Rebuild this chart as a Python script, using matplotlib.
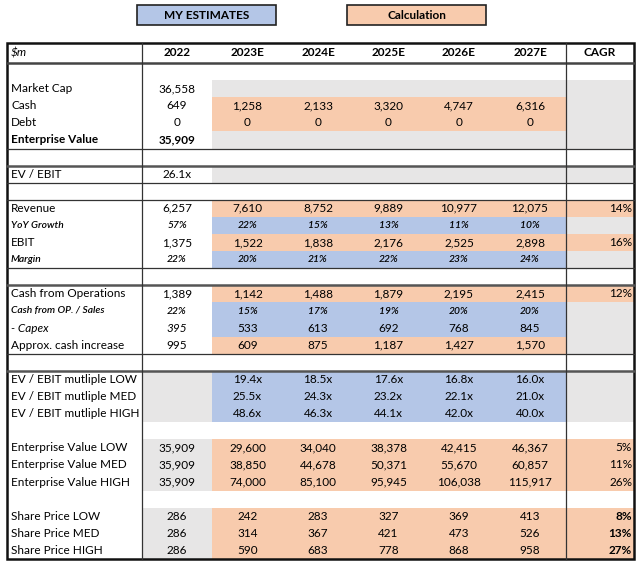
import matplotlib
matplotlib.use("Agg")
import matplotlib.pyplot as plt
from matplotlib.patches import Rectangle

plt.rcParams["font.family"] = ["Lato", "DejaVu Sans"]

# --- data read from the sheet ---
years = ["2022", "2023E", "2024E", "2025E", "2026E", "2027E"]
market_cap = 36558
cash = [649, 1258, 2133, 3320, 4747, 6316]
debt = [0, 0, 0, 0, 0, 0]
enterprise_value = 35909
ev_ebit = 26.1
revenue = [6257, 7610, 8752, 9889, 10977, 12075]
yoy_growth = [57, 22, 15, 13, 11, 10]
ebit = [1375, 1522, 1838, 2176, 2525, 2898]
margin = [22, 20, 21, 22, 23, 24]
cfo = [1389, 1142, 1488, 1879, 2195, 2415]
cfo_sales = [22, 15, 17, 19, 20, 20]
capex = [395, 533, 613, 692, 768, 845]
cash_increase = [995, 609, 875, 1187, 1427, 1570]
mult_low = [19.4, 18.5, 17.6, 16.8, 16.0]
mult_med = [25.5, 24.3, 23.2, 22.1, 21.0]
mult_high = [48.6, 46.3, 44.1, 42.0, 40.0]
ev_low = [35909, 29600, 34040, 38378, 42415, 46367]
ev_med = [35909, 38850, 44678, 50371, 55670, 60857]
ev_high = [35909, 74000, 85100, 95945, 106038, 115917]
sp_low = [286, 242, 283, 327, 369, 413]
sp_med = [286, 314, 367, 421, 473, 526]
sp_high = [286, 590, 683, 778, 868, 958]
cagr = {"revenue": 14, "ebit": 16, "cfo": 12,
        "ev_low": 5, "ev_med": 11, "ev_high": 26,
        "sp_low": 8, "sp_med": 13, "sp_high": 27}

BLUE = "#B4C6E7"
ORANGE = "#F8CBAD"
GRAY = "#E7E6E6"
FS = 8.5
FS_SMALL = 7.4


def num(v):
    return f"{v:,}"


def pct(v):
    return f"{v}%"


def mult(v):
    return f"{v:.1f}x"


# row: label, values (6, None = empty), cagr text, style, fill 2022, fill data, fill cagr
rows = [
    None,
    ("Market Cap", [num(market_cap)] + [None] * 5, None, "normal", None, GRAY, GRAY),
    ("Cash", [num(v) for v in cash], None, "normal", None, ORANGE, GRAY),
    ("Debt", [num(v) for v in debt], None, "normal", None, ORANGE, GRAY),
    ("Enterprise Value", [num(enterprise_value)] + [None] * 5, None, "bold", None, GRAY, GRAY),
    None,
    ("EV / EBIT", [mult(ev_ebit)] + [None] * 5, None, "normal", None, GRAY, GRAY),
    None,
    ("Revenue", [num(v) for v in revenue], pct(cagr["revenue"]), "normal", None, ORANGE, ORANGE),
    ("YoY Growth", [pct(v) for v in yoy_growth], None, "small", None, BLUE, GRAY),
    ("EBIT", [num(v) for v in ebit], pct(cagr["ebit"]), "normal", None, ORANGE, ORANGE),
    ("Margin", [pct(v) for v in margin], None, "small", None, BLUE, GRAY),
    None,
    ("Cash from Operations", [num(v) for v in cfo], pct(cagr["cfo"]), "normal", None, ORANGE, ORANGE),
    ("Cash from OP. / Sales", [pct(v) for v in cfo_sales], None, "small", None, BLUE, GRAY),
    ("- Capex", [num(v) for v in capex], None, "capex", None, BLUE, GRAY),
    ("Approx. cash increase", [num(v) for v in cash_increase], None, "normal", None, ORANGE, GRAY),
    None,
    ("EV / EBIT mutliple LOW", [None] + [mult(v) for v in mult_low], None, "normal", GRAY, BLUE, GRAY),
    ("EV / EBIT mutliple MED", [None] + [mult(v) for v in mult_med], None, "normal", GRAY, BLUE, GRAY),
    ("EV / EBIT mutliple HIGH", [None] + [mult(v) for v in mult_high], None, "normal", GRAY, BLUE, GRAY),
    None,
    ("Enterprise Value LOW", [num(v) for v in ev_low], pct(cagr["ev_low"]), "normal", GRAY, ORANGE, ORANGE),
    ("Enterprise Value MED", [num(v) for v in ev_med], pct(cagr["ev_med"]), "normal", GRAY, ORANGE, ORANGE),
    ("Enterprise Value HIGH", [num(v) for v in ev_high], pct(cagr["ev_high"]), "normal", GRAY, ORANGE, ORANGE),
    None,
    ("Share Price LOW", [num(v) for v in sp_low], pct(cagr["sp_low"]), "cagrbold", GRAY, ORANGE, ORANGE),
    ("Share Price MED", [num(v) for v in sp_med], pct(cagr["sp_med"]), "cagrbold", GRAY, ORANGE, ORANGE),
    ("Share Price HIGH", [num(v) for v in sp_high], pct(cagr["sp_high"]), "cagrbold", GRAY, ORANGE, ORANGE),
]

# layout in pixels
x_edges = [7, 142, 212, 283, 353, 424, 494, 566, 634]
top, head_bottom, bottom = 43, 63, 559
row_h = (bottom - head_bottom) / len(rows)

fig = plt.figure(figsize=(6.4, 5.65), dpi=100)
ax = fig.add_axes([0, 0, 1, 1])
ax.set_xlim(0, 640)
ax.set_ylim(565, 0)
ax.axis("off")

# legend boxes
for (x0, x1), txt, col in [((137, 276), "MY ESTIMATES", BLUE), ((347, 486), "Calculation", ORANGE)]:
    ax.add_patch(Rectangle((x0, 5), x1 - x0, 20, facecolor=col, edgecolor="#222222", lw=1.2))
    ax.text((x0 + x1) / 2, 15.5, txt, ha="center", va="center", fontsize=FS, fontweight="bold")

# header
ax.text(11, (top + head_bottom) / 2, "$m", ha="left", va="center", fontsize=FS, style="italic")
for i, y in enumerate(years):
    ax.text((x_edges[i + 1] + x_edges[i + 2]) / 2, (top + head_bottom) / 2, y,
            ha="center", va="center", fontsize=FS, fontweight="bold")
ax.text((x_edges[7] + x_edges[8]) / 2, (top + head_bottom) / 2, "CAGR",
        ha="center", va="center", fontsize=FS, fontweight="bold")

for r, row in enumerate(rows):
    if row is None:
        continue
    label, vals, cg, style, f22, fdata, fcagr = row
    y0 = head_bottom + r * row_h
    yc = y0 + row_h / 2
    if f22:
        ax.add_patch(Rectangle((x_edges[1], y0), x_edges[2] - x_edges[1], row_h, facecolor=f22, lw=0))
    if fdata:
        ax.add_patch(Rectangle((x_edges[2], y0), x_edges[7] - x_edges[2], row_h, facecolor=fdata, lw=0))
    if fcagr:
        ax.add_patch(Rectangle((x_edges[7], y0), x_edges[8] - x_edges[7], row_h, facecolor=fcagr, lw=0))

    lab_kw = dict(fontsize=FS)
    val_kw = dict(fontsize=FS)
    if style == "bold":
        lab_kw["fontweight"] = "bold"
        val_kw["fontweight"] = "bold"
    elif style == "small":
        lab_kw = dict(fontsize=FS_SMALL, style="italic", fontweight="semibold")
        val_kw = dict(fontsize=FS_SMALL, style="italic", fontweight="semibold")
    elif style == "capex":
        lab_kw["style"] = "italic"
    ax.text(11, yc, label, ha="left", va="center", **lab_kw)
    for i, v in enumerate(vals):
        if v is None:
            continue
        kw = dict(val_kw)
        if style == "capex" and i == 0:
            kw["style"] = "italic"
        ax.text((x_edges[i + 1] + x_edges[i + 2]) / 2, yc, v, ha="center", va="center", **kw)
    if cg:
        ax.text(x_edges[8] - 2, yc, cg, ha="right", va="center", fontsize=FS,
                fontweight="bold" if style == "cagrbold" else "normal")

# horizontal rules at section boundaries
thin_rows = [5, 7, 8, 12, 17]
double_rows = [6, 13, 18]
for r in thin_rows:
    y = head_bottom + r * row_h
    ax.plot([x_edges[0], x_edges[8]], [y, y], color="#333333", lw=0.9)
for r in double_rows:
    y = head_bottom + r * row_h
    ax.plot([x_edges[0], x_edges[8]], [y, y], color="#555555", lw=1.8)
ax.plot([x_edges[0], x_edges[8]], [head_bottom, head_bottom], color="#444444", lw=1.8)

# vertical rules and border
for x in (x_edges[1], x_edges[7]):
    ax.plot([x, x], [top, bottom], color="#333333", lw=0.9)
ax.add_patch(Rectangle((x_edges[0], top), x_edges[8] - x_edges[0], bottom - top,
                       facecolor="none", edgecolor="#111111", lw=1.8))

fig.savefig("out.png", dpi=100)
plt.close(fig)
